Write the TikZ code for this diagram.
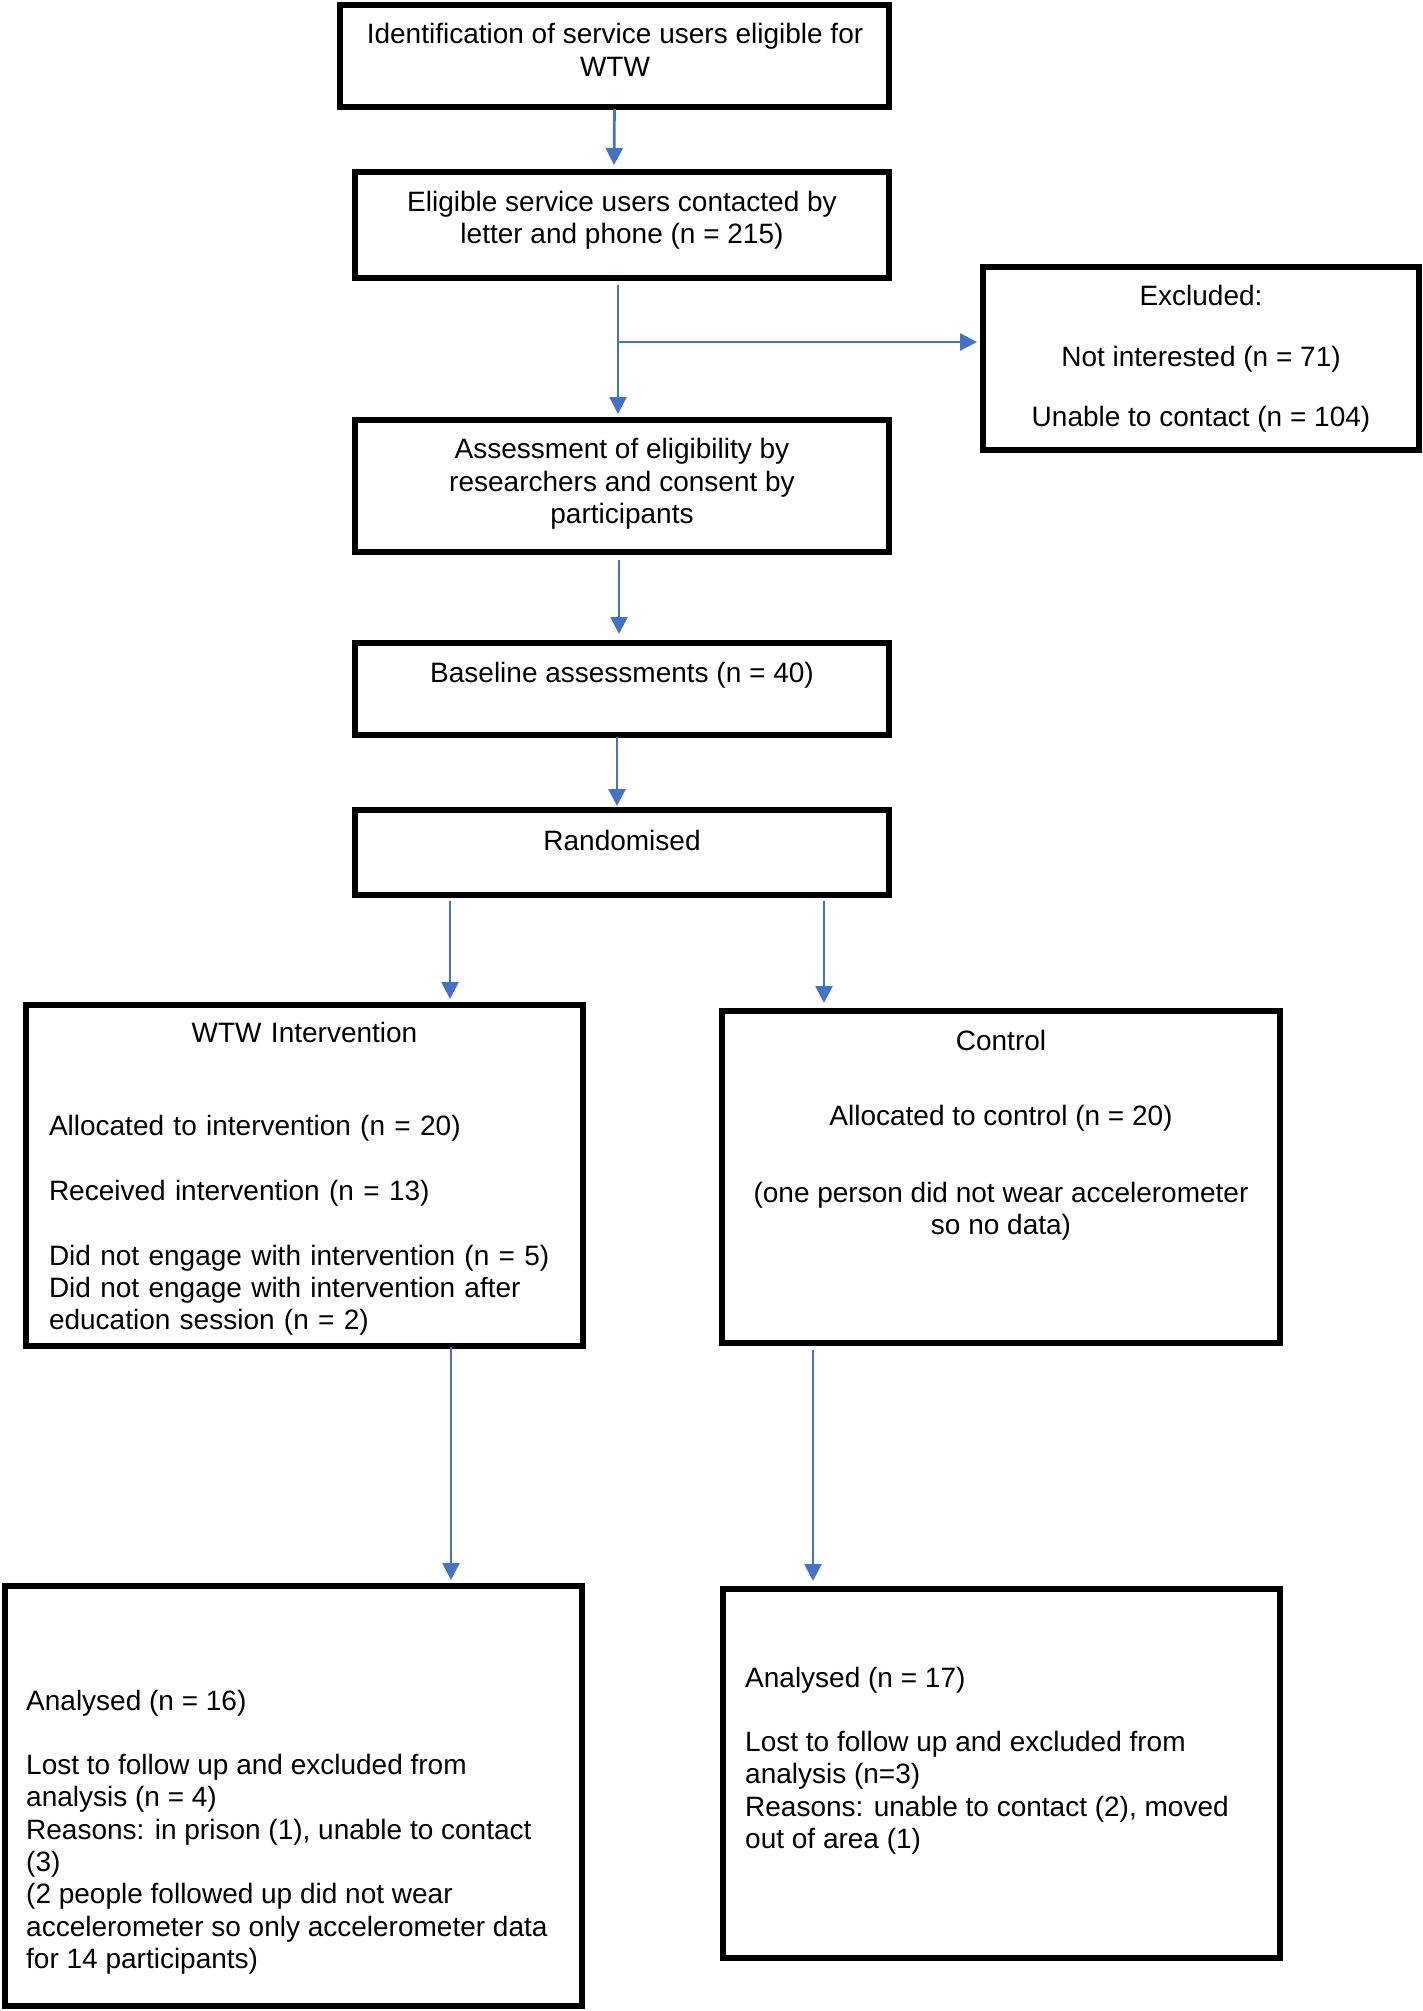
\documentclass[tikz,border=0pt]{standalone}
\usepackage{fontspec}
\setmainfont{Liberation Sans}
\usetikzlibrary{arrows.meta,calc}
\definecolor{arrowblue}{RGB}{68,114,196}
\begin{document}
\begin{tikzpicture}[x=1pt,y=-1pt,
  box/.style={draw=black,line width=5.8pt,line join=miter,inner sep=0pt,outer sep=0pt,anchor=north west},
  txt/.style={inner sep=0pt,font=\fontsize{28}{32.3}\selectfont,align=center},
  ltxt/.style={inner sep=0pt,font=\fontsize{28}{32.3}\selectfont,align=left},
  arr/.style={draw=arrowblue,line width=2.7pt,-{Triangle[length=17pt,width=17pt]}}]
\useasboundingbox[fill=white] (0,0) rectangle (1423,2011);
% boxes
\node[box,minimum width=549pt,minimum height=102pt] (b1) at (340,5) {};
\node[box,minimum width=534pt,minimum height=106pt] (b2) at (355,172) {};
\node[box,minimum width=436pt,minimum height=183pt] (bx) at (983,267) {};
\node[box,minimum width=534pt,minimum height=132pt] (b4) at (355,420) {};
\node[box,minimum width=534pt,minimum height=92pt] (b5) at (355,643) {};
\node[box,minimum width=534pt,minimum height=85pt] (b6) at (355,810) {};
\node[box,minimum width=557pt,minimum height=341pt] (b7) at (26,1005) {};
\node[box,minimum width=558pt,minimum height=332pt] (b8) at (722,1011) {};
\node[box,minimum width=577pt,minimum height=420pt] (b9) at (5,1586) {};
\node[box,minimum width=557pt,minimum height=369pt] (b10) at (723,1589) {};
% texts
\node[txt] (t1) at (615,50) {Identification of service users eligible for\\WTW};
\node[txt] (t2) at (622,220) {Eligible service users contacted by\\letter and phone (n = 215)};
\node[txt] (tx) at (1201,359) {Excluded:\\[28.2pt]Not interested (n = 71)\\[28.2pt]Unable to contact (n = 104)};
\node[txt] (t4) at (622,484) {Assessment of eligibility by\\researchers and consent by\\participants};
\node[txt] (t5) at (622,675) {Baseline assessments (n = 40)};
\node[txt] (t6) at (622,840) {Randomised};
\node[ltxt,text width=511pt] (t7) at (304.5,1179) {\makebox[511pt]{WTW Intervention}\\[60.7pt]Allocated to intervention (n = 20)\\[32.3pt]Received intervention (n = 13)\\[32.3pt]Did not engage with intervention (n = 5)\\Did not engage with intervention after\\education session (n = 2)};
\node[txt] (t8) at (1001,1135) {Control\\[42.7pt]Allocated to control (n = 20)\\[44.7pt](one person did not wear accelerometer\\so no data)};
\node[ltxt,anchor=west] (t9) at (26,1832) {Analysed (n = 16)\\[32.3pt]Lost to follow up and excluded from\\analysis (n = 4)\\Reasons: in prison (1), unable to contact\\(3)\\(2 people followed up did not wear\\accelerometer so only accelerometer data\\for 14 participants)};
\node[ltxt,anchor=west] (t10) at (745,1760.5) {Analysed (n = 17)\\[32.3pt]Lost to follow up and excluded from\\analysis (n=3)\\Reasons: unable to contact (2), moved\\out of area (1)};
% connectors
\draw[arr,shorten <=2pt,shorten >=7pt] (b1.south) -- ([xshift=-8pt]b2.north);
\draw[arr,shorten <=7pt,shorten >=6pt] ([xshift=-4pt]b2.south) -- ([xshift=-4pt]b4.north);
\coordinate (br) at ($(b2.south)+(-4,64)$);
\draw[arr,shorten >=6pt] (br) -- (br -| bx.west);
\draw[arr,shorten <=8pt,shorten >=9pt] ([xshift=-3pt]b4.south) -- ([xshift=-3pt]b5.north);
\draw[arr,shorten <=2pt,shorten >=4pt] ([xshift=-5pt]b5.south) -- ([xshift=-5pt]b6.north);
\draw[arr,shorten <=6pt,shorten >=6pt] ([xshift=-172pt]b6.south) -- ([xshift=145.5pt]b7.north);
\draw[arr,shorten <=6pt,shorten >=8pt] ([xshift=202pt]b6.south) -- ([xshift=-177pt]b8.north);
\draw[arr,shorten <=1pt,shorten >=6pt] ([xshift=146.5pt]b7.south) -- ([xshift=157.5pt]b9.north);
\draw[arr,shorten <=7pt,shorten >=8pt] ([xshift=-188pt]b8.south) -- ([xshift=-188.5pt]b10.north);
\end{tikzpicture}
\end{document}
